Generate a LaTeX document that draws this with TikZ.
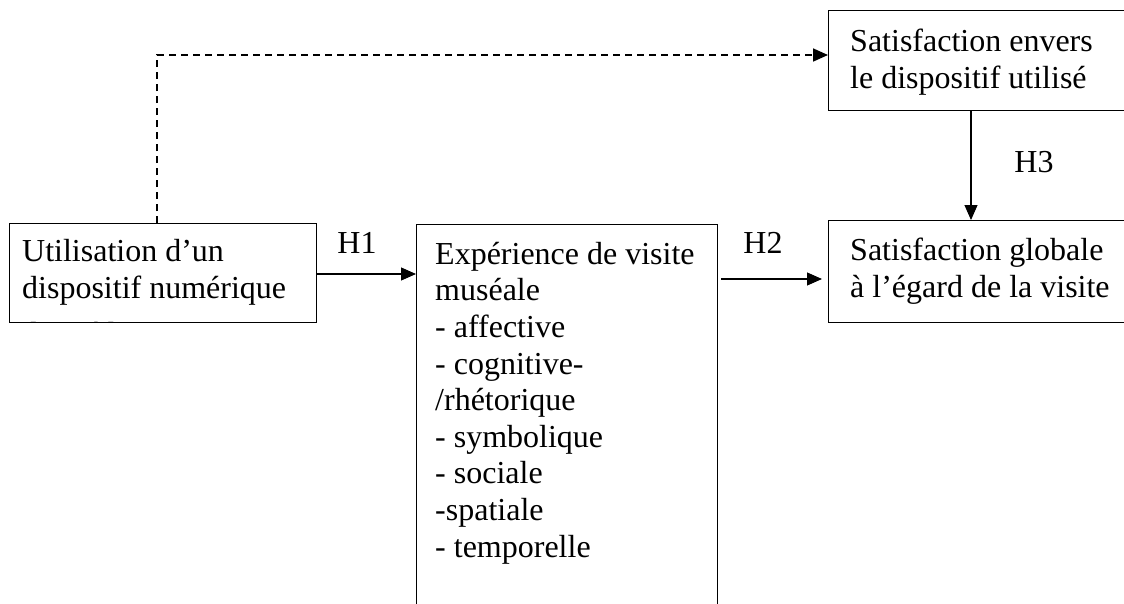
\documentclass[tikz,border=0pt]{standalone}
\usepackage{fontspec}
\setmainfont{Liberation Serif}
\usetikzlibrary{arrows.meta}
\tikzset{
  box/.style={draw, line width=1pt, inner sep=0pt, anchor=north west},
  txt/.style={anchor=base west, inner sep=0pt, align=left, font=\fontsize{32}{36.6}\selectfont},
  lbl/.style={anchor=base, inner sep=0pt, font=\fontsize{32}{36.6}\selectfont},
  arr/.style={line width=1.1pt, -{Triangle[length=15pt,width=13pt]}},
  darr/.style={line width=1.7pt, dash pattern=on 7pt off 5pt, -{Triangle[length=15pt,width=13pt]}}
}
\begin{document}
\begin{tikzpicture}[x=1pt,y=-1pt]
\useasboundingbox (0,0) rectangle (1124,603);
\clip (0,0) rectangle (1124,603);
\fill[white] (0,0) rectangle (1124,603);
% boxes
\node[box, minimum width=307pt, minimum height=99pt] (util) at (9,223) {};
\node[box, minimum width=301pt, minimum height=420pt] (exp) at (416,224) {};
\node[box, minimum width=320pt, minimum height=100pt] (satd) at (828,10) {};
\node[box, minimum width=320pt, minimum height=102pt] (satg) at (828,220) {};
% texts
\node[txt] (t1) at (22,261) {Utilisation d’un};
\node[txt] (t2) at (22,298) {dispositif numérique};
\begin{scope}
\clip (9,223) rectangle (316,322);
\node[txt] (t3) at (22,344) {de médiation};
\end{scope}
\node[txt] (e1) at (435,557) {Expérience de visite\\muséale\\- affective\\- cognitive-\\/rhétorique\\- symbolique\\- sociale\\-spatiale\\- temporelle};
\node[txt] (s1) at (850,88) {Satisfaction envers\\le dispositif utilisé};
\node[txt] (g1) at (850,297) {Satisfaction globale\\à l’égard de la visite};
% labels
\node[lbl] (h1) at (357,253) {H1};
\node[lbl] (h2) at (763,253) {H2};
\node[lbl] (h3) at (1034,172) {H3};
% connectors
\coordinate (a1) at (util.east |- 0,274);
\draw[arr] (a1) -- (a1 -| exp.west);
\coordinate (a2) at (721,279);
\draw[arr] (a2) -- (822,279);
\coordinate (d0) at (157,223);
\draw[darr] (d0) -- (157,55) -- (157,55 -| satd.west);
\coordinate (v0) at (971,110);
\draw[arr] (v0) -- (v0 |- satg.north);
\end{tikzpicture}
\end{document}
